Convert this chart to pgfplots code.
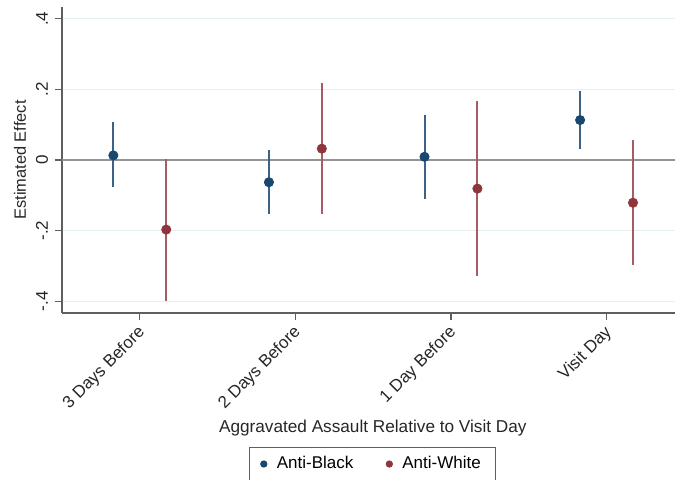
\documentclass[border=0pt]{standalone}
\usepackage{pgfplots}
\pgfplotsset{compat=1.18}
\usepackage{pgfplotstable}
\usepackage{fontspec}
\setmainfont{Liberation Sans}
\definecolor{sblue}{HTML}{1A476F}
\definecolor{sred}{HTML}{90353B}
\definecolor{gridc}{HTML}{E6EFF1}
\definecolor{axc}{HTML}{5F5F5F}

\pgfplotstableread{
x     y      ep     em
0.83  0.013  0.095  0.090
1.83 -0.063  0.090  0.089
2.83  0.009  0.119  0.120
3.83  0.113  0.083  0.081
}\blackdata
\pgfplotstableread{
x     y      ep     em
1.17 -0.197  0.201  0.201
2.17  0.032  0.187  0.186
3.17 -0.081  0.247  0.247
4.17 -0.121  0.178  0.177
}\whitedata

\begin{document}
\begin{tikzpicture}
\begin{axis}[
  scale only axis,
  width=306.5pt, height=153pt,
  xmin=0.5, xmax=4.44,
  ymin=-0.433, ymax=0.433,
  axis x line=bottom, axis y line=left,
  axis line style={-, draw=axc, line width=0.8pt},
  tick align=outside,
  major tick length=3.5pt,
  tick style={draw=axc, line width=0.6pt},
  xtick={1,2,3,4},
  xticklabels={3 Days Before,2 Days Before,1 Day Before,Visit Day},
  xticklabel style={rotate=45, anchor=east, font=\fontsize{8.5}{10}\selectfont, inner sep=1pt, text=black!85, xshift=-1.5pt, yshift=-4.5pt},
  ytick={-0.4,-0.2,0,0.2,0.4},
  yticklabels={-.4,-.2,0,.2,.4},
  yticklabel style={rotate=90, anchor=south, font=\fontsize{8.5}{10}\selectfont, text=black!85},
  /pgf/number format/assume math mode=true,
  ymajorgrids,
  grid style={draw=gridc, line width=0.8pt},
  xlabel={Aggravated Assault Relative to Visit Day},
  xlabel style={at={(axis description cs:0.507,0)}, yshift=-57.5pt, anchor=center, font=\fontsize{8.6}{10}\selectfont, text=black!85},
  ylabel={Estimated Effect},
  ylabel style={at={(axis description cs:-0.0685,0.5)}, anchor=center, font=\fontsize{8.2}{10}\selectfont, text=black!85},
  legend style={at={(axis description cs:0.507,-0.4935)}, anchor=center, draw=axc, line width=0.6pt,
    font=\fontsize{8.5}{10}\selectfont, legend columns=2, inner ysep=2.5pt, inner xsep=5.5pt,
    /tikz/every odd column/.style={column sep=3pt},
    /tikz/every even column/.style={column sep=14.5pt}},
  legend image code/.code={\draw[#1, mark size=1.5pt] plot coordinates {(0pt,0pt)};},
  legend cell align=left,
  clip=false,
]
\addplot[draw=gray!85, line width=1pt, forget plot] coordinates {(0.5,0) (4.44,0)};
\addplot[only marks, mark=*, mark size=2.3pt, color=sblue,
  error bars/.cd, y dir=both, y explicit, error mark=none,
  error bar style={line width=1pt, draw=sblue!85}]
  table[x=x, y=y, y error plus=ep, y error minus=em]{\blackdata};
\addlegendentry{Anti-Black}
\addplot[only marks, mark=*, mark size=2.3pt, color=sred,
  error bars/.cd, y dir=both, y explicit, error mark=none,
  error bar style={line width=1pt, draw=sred!80}]
  table[x=x, y=y, y error plus=ep, y error minus=em]{\whitedata};
\addlegendentry{Anti-White}
\end{axis}
\pgfresetboundingbox
\path (-31pt,-83.5pt) rectangle (306.5pt,156.5pt);
\end{tikzpicture}
\end{document}
